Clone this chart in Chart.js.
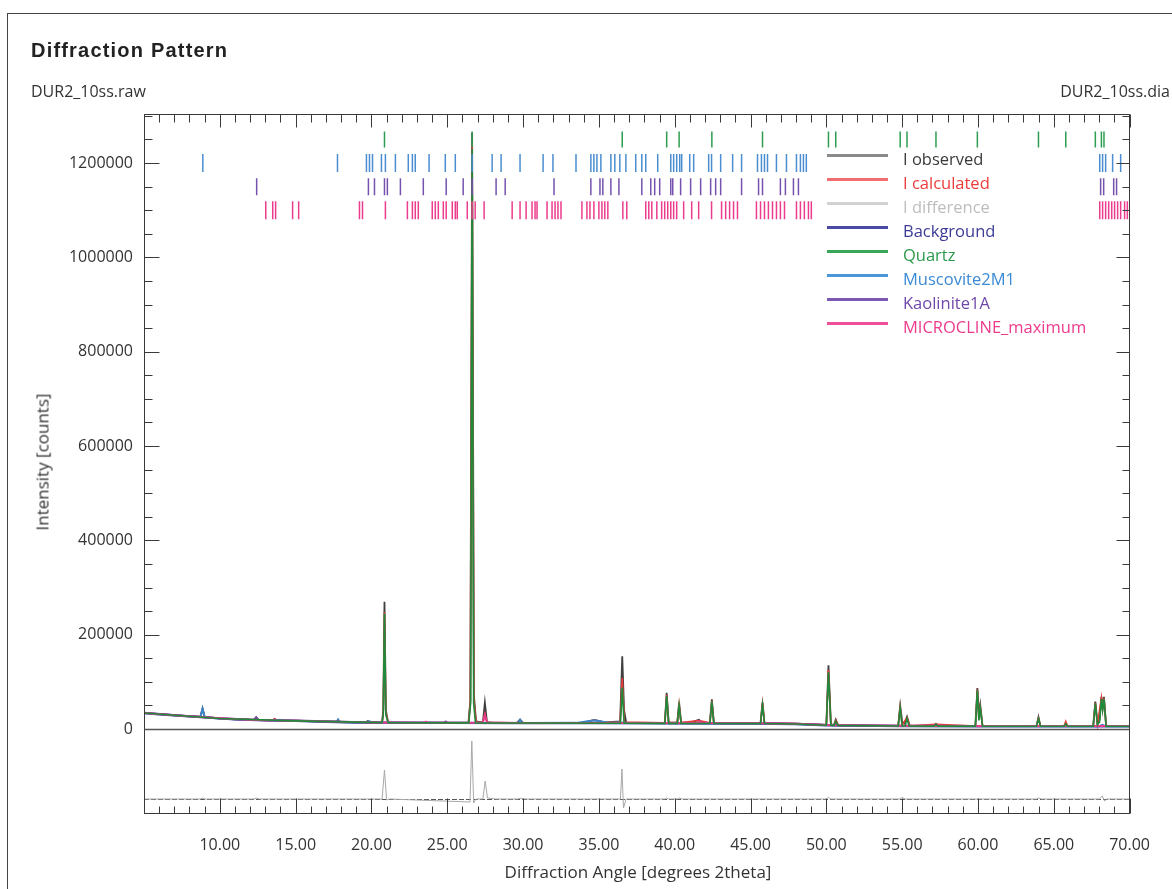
<!DOCTYPE html>
<html>
<head>
<meta charset="utf-8">
<script src="https://cdn.jsdelivr.net/npm/chart.js@4.4.1/dist/chart.umd.min.js"></script>
<style>
html,body{margin:0;padding:0;background:#fff;overflow:hidden}
#wrap{position:relative;width:1172px;height:889px;overflow:hidden;background:#fff}
#frame{position:absolute;left:7px;top:13px;width:1300px;height:1000px;border-left:1px solid #444;border-top:1px solid #444}
#c{position:absolute;left:0;top:0}
.t{position:absolute;white-space:nowrap;font-family:"Open Sans",sans-serif;color:#333}
.ll{position:absolute;height:2.5px}
</style>
</head>
<body>
<div id="wrap">
  <div id="frame"></div>
  <canvas id="c" width="1172" height="889"></canvas>
  <div class="t" style="left:31px;top:40px;font-family:'Liberation Sans',Arial,sans-serif;font-weight:bold;font-size:20px;line-height:20px;letter-spacing:1.2px;color:#222">Diffraction Pattern</div>
  <div class="t" style="left:31px;top:83px;font-size:16px;line-height:16px">DUR2_10ss.raw</div>
  <div class="t" style="right:2px;top:83px;font-size:16px;line-height:16px">DUR2_10ss.dia</div>
  <div class="t" style="left:42px;top:462px;font-size:17px;line-height:17px;transform:translate(-50%,-50%) rotate(-90deg)">Intensity [counts]</div>
  <div class="t" style="left:638px;top:863px;font-size:17px;line-height:17px;transform:translateX(-50%)">Diffraction Angle [degrees 2theta]</div>
  <div id="legend"></div>
</div>
<script>
// ---------- data ----------
const xMin = 5, xMax = 70;
const yMax = 1304000;
const diffMin = -15000, diffMax = 70000;
const xTickStep = 5;
const yTickStep = 200000;
const yTickValues = [0, 200000, 400000, 600000, 800000, 1000000, 1200000];

// pattern curves: [2theta, counts]
const observed = [[5.0,34000],[6.0,31500],[7.0,29000],[8.0,27000],[8.72,26000],[8.86,44000],[9.0,25500],[10.0,22500],[11.0,20500],[12.25,19500],[12.4,25000],[12.55,19000],[13.5,18500],[13.62,21500],[13.75,18000],[15.0,17500],[16.5,16000],[17.7,15000],[17.8,20000],[17.9,14800],[19.6,14000],[19.75,17000],[19.9,14000],[20.7,13800],[20.78,40000],[20.86,270000],[20.95,40000],[21.1,13500],[23.0,13300],[24.8,13200],[24.9,15500],[25.0,13200],[26.4,13500],[26.52,60000],[26.64,1265000],[26.76,70000],[26.9,16000],[27.35,14000],[27.48,56000],[27.62,14500],[28.0,13000],[29.6,12800],[29.8,20000],[30.0,12800],[32.0,12800],[34.0,13500],[34.7,19000],[35.4,14000],[36.4,16000],[36.54,154000],[36.66,40000],[36.8,13500],[38.5,13000],[39.35,13000],[39.47,77000],[39.6,14000],[40.17,13500],[40.29,56000],[40.42,14000],[41.0,13000],[41.6,19500],[41.8,13000],[42.32,13000],[42.45,63000],[42.58,13000],[44.0,12800],[45.66,12500],[45.79,56000],[45.92,12500],[47.0,12000],[48.5,11000],[50.0,8500],[50.14,135000],[50.3,10000],[50.5,8000],[50.62,20000],[50.78,7500],[52.0,7000],[54.74,6800],[54.87,49000],[55.0,16000],[55.15,12000],[55.32,26000],[55.5,6800],[57.1,6500],[57.23,11000],[57.36,6500],[59.83,6300],[59.96,87000],[60.06,30000],[60.15,51000],[60.3,6300],[62.0,6200],[63.86,6200],[63.99,25000],[64.12,6200],[65.68,6200],[65.79,13000],[65.9,6200],[67.6,6200],[67.74,58000],[67.88,12000],[68.02,20000],[68.14,68000],[68.22,45000],[68.31,68000],[68.45,6500],[69.0,6200],[70.0,6200]];

const calculated = [[5.0,34000],[8.0,27000],[8.72,26000],[8.86,42000],[9.0,25500],[10.0,22500],[12.0,19500],[12.25,19300],[12.4,24000],[12.55,19000],[15.0,17500],[17.7,15000],[17.8,19000],[17.9,14800],[20.0,13800],[20.7,13800],[20.78,35000],[20.86,248000],[20.95,35000],[21.1,13500],[24.8,13200],[24.9,15000],[25.0,13200],[26.4,13500],[26.52,55000],[26.64,1240000],[26.76,60000],[26.9,15000],[27.35,14000],[27.48,32000],[27.62,14000],[29.6,12800],[29.8,19000],[30.0,12800],[34.0,13500],[34.7,19000],[35.4,14000],[36.4,15000],[36.54,108000],[36.68,15000],[39.35,13000],[39.47,72000],[39.6,13500],[40.17,13500],[40.29,52000],[40.42,13500],[41.6,18000],[42.32,13000],[42.45,60000],[42.58,13000],[45.66,12500],[45.79,54000],[45.92,12500],[48.5,11000],[50.0,8500],[50.14,125000],[50.3,8500],[50.5,8000],[50.62,18000],[50.78,7500],[54.74,6800],[54.87,46000],[55.0,8000],[55.32,24000],[55.5,6800],[57.23,10000],[59.83,6300],[59.96,84000],[60.06,20000],[60.15,47000],[60.3,6300],[63.86,6200],[63.99,23000],[64.12,6200],[65.68,6200],[65.79,16000],[65.9,6200],[67.6,6200],[67.74,55000],[67.88,10000],[68.14,66000],[68.22,42000],[68.31,66000],[68.45,6300],[70.0,6200]];

const difference = [[5,0],[8.72,0],[8.86,1000],[9.0,0],[12.25,0],[12.4,1000],[12.6,0],[20.7,0],[20.86,29000],[21.0,-1000],[21.2,0],[26.5,-3000],[26.62,58000],[26.74,-4000],[26.9,0],[27.35,0],[27.5,18000],[27.65,1000],[28.2,0],[29.65,0],[29.8,800],[30.0,0],[36.42,0],[36.52,30000],[36.62,-9000],[36.8,0],[39.35,0],[39.47,1000],[39.6,0],[40.17,0],[40.3,1000],[40.5,0],[50.0,0],[50.14,1500],[50.3,0],[54.85,0],[55.0,1500],[55.2,0],[63.85,0],[64.0,1000],[64.2,0],[68.0,0],[68.2,3000],[68.35,-2000],[68.5,0],[70,0]];

const background = [[5,33500],[6,31000],[7,28500],[8,26500],[9,24500],[10,22000],[11,20000],[12,19000],[13,18000],[15,17000],[17,15000],[19,13500],[21,13000],[25,12500],[30,12000],[35,12000],[40,11500],[45,11000],[48,10000],[50,7500],[55,6000],[60,5500],[65,5300],[70,5200]];

const quartz = [[5,33800],[10,22300],[15,17200],[20.7,13500],[20.78,30000],[20.86,245000],[20.95,30000],[21.1,13200],[26.42,13000],[26.54,55000],[26.64,1230000],[26.74,55000],[26.86,13000],[36.42,12300],[36.54,88000],[36.66,12300],[39.35,12000],[39.47,70000],[39.6,12000],[40.17,12000],[40.29,50000],[40.42,12000],[42.32,11800],[42.45,58000],[42.58,11800],[45.66,11500],[45.79,52000],[45.92,11500],[48,10500],[50.0,8000],[50.14,120000],[50.3,8000],[50.5,7800],[50.62,16000],[50.76,7600],[54.74,6500],[54.87,44000],[55.0,6500],[55.2,6400],[55.32,22000],[55.46,6400],[57.1,6200],[57.23,9500],[57.36,6200],[59.83,6000],[59.96,82000],[60.06,18000],[60.15,45000],[60.3,6000],[63.86,5900],[63.99,22000],[64.12,5900],[65.68,5800],[65.79,11000],[65.9,5800],[67.6,5800],[67.74,54000],[67.88,9000],[68.02,15000],[68.14,64000],[68.22,40000],[68.31,64000],[68.45,5800],[70,5700]];

const muscovite = [[5,34000],[8,27000],[8.72,25500],[8.86,43000],[9.0,25000],[10,22500],[12,19500],[15,17500],[17.7,15300],[17.8,19500],[17.9,15000],[19.7,14000],[19.85,16500],[20.0,13800],[22,13500],[25,13000],[29.65,12800],[29.8,19500],[29.95,12700],[33.5,13000],[34.7,18500],[35.6,13200],[36.5,14000],[37,12600],[41.5,12200],[41.6,15000],[41.7,12200],[45,11800],[48,10800],[50,8300],[55,6600],[60,6100],[68.0,6000],[68.2,9000],[68.4,6000],[70,5900]];

const kaolinite = [[5,34300],[8,27300],[10,22800],[12.25,19800],[12.4,24500],[12.55,19300],[15,17800],[20,14000],[24.8,13500],[24.9,15500],[25.0,13400],[30,12900],[35,12900],[38.5,12600],[40,12400],[45,12000],[48,11000],[50,8500],[55,7000],[60,6500],[65,6400],[70,6300]];

const microcline = [[5,34000],[8,27000],[10,22600],[12,19600],[13.5,18300],[13.62,21000],[13.75,18000],[15,17500],[20,13800],[23.5,13400],[23.6,15500],[23.7,13300],[25,13200],[27.35,13800],[27.48,30000],[27.62,13800],[30,12800],[35,12800],[41.5,12600],[41.65,16000],[41.8,12500],[45,12000],[48,11000],[50,8300],[55,6800],[60,6300],[65,6200],[70,6100]];

// reflection positions (degrees 2theta)
const quartzRefl = [20.86,26.64,36.54,39.47,40.29,42.45,45.79,50.14,50.62,54.87,55.32,57.23,59.96,63.99,65.79,67.74,68.14,68.31];
const muscoviteRefl = [8.88,17.76,19.67,19.87,20.07,20.66,20.92,21.58,22.43,22.70,22.89,23.80,24.87,25.53,26.64,27.96,28.55,29.80,31.32,31.97,33.49,34.47,34.67,34.87,35.13,35.79,36.05,36.38,36.78,37.43,37.83,38.09,38.88,39.74,39.93,40.13,40.33,40.46,40.99,41.25,42.24,42.43,43.03,43.82,44.41,45.46,45.72,45.92,46.12,46.71,47.37,48.03,48.29,48.49,48.68,68.03,68.22,68.42,68.88,69.41];
const kaoliniteRefl = [12.43,19.80,20.20,20.86,21.05,21.91,23.42,24.93,26.05,26.64,28.22,28.82,32.04,34.47,35.07,35.26,35.79,36.32,37.83,38.42,38.68,39.01,39.74,39.87,40.39,41.05,41.71,42.37,42.70,43.03,44.41,45.53,45.79,46.97,47.30,47.83,48.16,68.09,68.29,68.95,69.14];
const microclineRefl = [13.03,13.49,13.68,14.80,15.20,19.21,19.41,20.92,22.37,22.70,22.89,23.09,24.01,24.21,24.41,24.74,24.93,25.33,25.53,25.66,26.32,26.64,26.84,27.43,29.28,29.80,30.20,30.59,30.79,30.92,31.58,31.91,32.11,32.30,32.50,33.88,34.21,34.41,34.67,35.00,35.20,35.39,35.59,36.58,36.84,38.09,38.29,38.49,38.82,39.14,39.34,39.54,39.74,39.93,40.13,40.59,41.12,41.58,42.43,43.09,43.36,43.62,43.88,44.14,45.39,45.66,45.92,46.18,46.45,46.71,46.97,47.24,48.03,48.29,48.55,48.82,49.01,68.03,68.22,68.42,68.62,68.82,69.01,69.21,69.41,69.67,69.85];
// row level (counts) where each phase's reflection markers sit
const markerRows = [1250000, 1200000, 1150000, 1100000];

const legendLabels = ['I observed','I calculated','I difference','Background','Quartz','Muscovite2M1','Kaolinite1A','MICROCLINE_maximum'];
const legendLineColors = ['#8a8a8a','#f26d6d','#d2d2d2','#4a4aa2','#3aa65a','#4b95d8','#7b59b3','#f0509a'];
const legendTextColors = ['#3a3a3a','#ec3b3b','#bdbdbd','#3c3c98','#2c9a4c','#3a8ad4','#7048aa','#ec3a8c'];

// ---------- legend (HTML) ----------
const lg = document.getElementById('legend');
legendLabels.forEach((lab, i) => {
  const l = document.createElement('div');
  l.className = 'll';
  l.style.cssText = `left:827px;width:61px;top:${154 + i*24}px;background:${legendLineColors[i]}`;
  lg.appendChild(l);
  const t = document.createElement('div');
  t.className = 't';
  t.style.cssText = `left:903px;top:${151 + i*24}px;font-size:16.5px;line-height:16.5px;color:${legendTextColors[i]}`;
  t.textContent = lab;
  lg.appendChild(t);
});

// ---------- chart ----------
const toXY = pts => pts.map(p => ({x: p[0], y: p[1]}));
const lineDs = (label, pts, color, order, width, axis) => ({
  label, data: toXY(pts), showLine: true, borderColor: color, backgroundColor: color,
  borderWidth: width, pointRadius: 0, pointHoverRadius: 0, order, yAxisID: axis, tension: 0, fill: false
});
const markDs = (label, xs, yv, color, r) => ({
  label, data: xs.map(x => ({x, y: yv})), showLine: false, yAxisID: 'y', order: 0,
  pointStyle: 'line', pointRotation: 90, pointRadius: r, pointHoverRadius: r,
  pointBorderColor: color, pointBackgroundColor: color, pointBorderWidth: 1.5
});

const decor = {
  id: 'decor',
  beforeDatasetsDraw(chart) {
    const {ctx, chartArea: a, scales} = chart;
    const z = Math.round(scales.yd.getPixelForValue(0)) + 0.5;
    ctx.save();
    ctx.strokeStyle = '#555';
    ctx.lineWidth = 1;
    ctx.setLineDash([5, 2]);
    ctx.beginPath(); ctx.moveTo(a.left, z); ctx.lineTo(a.right, z); ctx.stroke();
    ctx.restore();
  },
  afterDatasetsDraw(chart) {
    const {ctx, chartArea: a, scales} = chart;
    const xs = scales.x, ys = scales.y;
    ctx.save();
    ctx.strokeStyle = '#3a3a3a';
    ctx.lineWidth = 1;
    const L = Math.round(a.left) + 0.5, R = Math.round(a.right) - 0.5;
    const T = Math.round(a.top) + 0.5, B = Math.round(a.bottom) - 0.5;
    ctx.strokeRect(L, T, R - L, B - T);
    ctx.beginPath();
    for (let d = xMin; d <= xMax; d++) {
      const px = Math.round(xs.getPixelForValue(d)) + 0.5;
      const major = d % xTickStep === 0;
      ctx.moveTo(px, T); ctx.lineTo(px, T + (major ? 13 : 8));
      ctx.moveTo(px, B); ctx.lineTo(px, B - (major ? 15 : 7));
    }
    for (let v = 0; v <= yMax; v += yTickStep / 4) {
      const py = Math.round(ys.getPixelForValue(v)) + 0.5;
      const major = v % yTickStep === 0;
      ctx.moveTo(L, py); ctx.lineTo(L + (major ? 15 : 8), py);
      ctx.moveTo(R, py); ctx.lineTo(R - (major ? 13 : 7), py);
    }
    ctx.stroke();
    const z = Math.round(ys.getPixelForValue(0)) + 0.5;
    ctx.strokeStyle = '#555';
    ctx.lineWidth = 1.5;
    ctx.beginPath(); ctx.moveTo(L, z); ctx.lineTo(R, z); ctx.stroke();
    ctx.restore();
  }
};

const fontTicks = {family: "'Open Sans', sans-serif", size: 16};

new Chart(document.getElementById('c'), {
  type: 'scatter',
  data: {
    datasets: [
      markDs('Quartz reflections', quartzRefl, markerRows[0], '#2e9d52', 8),
      markDs('Muscovite2M1 reflections', muscoviteRefl, markerRows[1], '#4a8dd0', 9),
      markDs('Kaolinite1A reflections', kaoliniteRefl, markerRows[2], '#7552ad', 8.5),
      markDs('MICROCLINE_maximum reflections', microclineRefl, markerRows[3], '#ec3c8d', 9),
      lineDs('Quartz', quartz, '#1f8a3a', 1, 1.6, 'y'),
      lineDs('MICROCLINE_maximum', microcline, '#e83a8a', 2, 2, 'y'),
      lineDs('Kaolinite1A', kaolinite, '#7a4cae', 3, 2, 'y'),
      lineDs('Muscovite2M1', muscovite, '#3a86cc', 4, 2, 'y'),
      lineDs('Background', background, '#3a3a9a', 5, 2, 'y'),
      lineDs('I calculated', calculated, '#e83c3c', 6, 1.6, 'y'),
      lineDs('I observed', observed, '#404040', 7, 1.8, 'y'),
      lineDs('I difference', difference, '#a8a8a8', 8, 1, 'yd')
    ]
  },
  options: {
    responsive: false, animation: false, devicePixelRatio: 1, events: [],
    layout: {padding: {left: 0, right: 40, top: 114, bottom: 0}},
    plugins: {legend: {display: false}, tooltip: {enabled: false}, title: {display: false}},
    scales: {
      x: {
        type: 'linear', min: xMin, max: xMax, position: 'bottom',
        grid: {display: false, drawTicks: false}, border: {display: false},
        ticks: {stepSize: xTickStep, padding: 22, color: '#333', font: fontTicks, maxRotation: 0, autoSkip: false,
          callback: v => v === xMin ? '' : Number(v).toFixed(2)},
        afterFit: s => { s.height = 75; }
      },
      yd: {
        type: 'linear', position: 'left', stack: 'left', stackWeight: 85,
        min: diffMin, max: diffMax,
        grid: {display: false, drawTicks: false}, border: {display: false},
        ticks: {display: false},
        afterFit: s => { s.width = 144; }
      },
      y: {
        type: 'linear', position: 'left', stack: 'left', stackWeight: 615,
        min: 0, max: yMax,
        grid: {display: false, drawTicks: false}, border: {display: false},
        ticks: {padding: 11, color: '#333', font: fontTicks, autoSkip: false, callback: v => String(v)},
        afterBuildTicks: s => { s.ticks = yTickValues.map(v => ({value: v})); },
        afterFit: s => { s.width = 144; }
      }
    }
  },
  plugins: [decor]
});
</script>
</body>
</html>
